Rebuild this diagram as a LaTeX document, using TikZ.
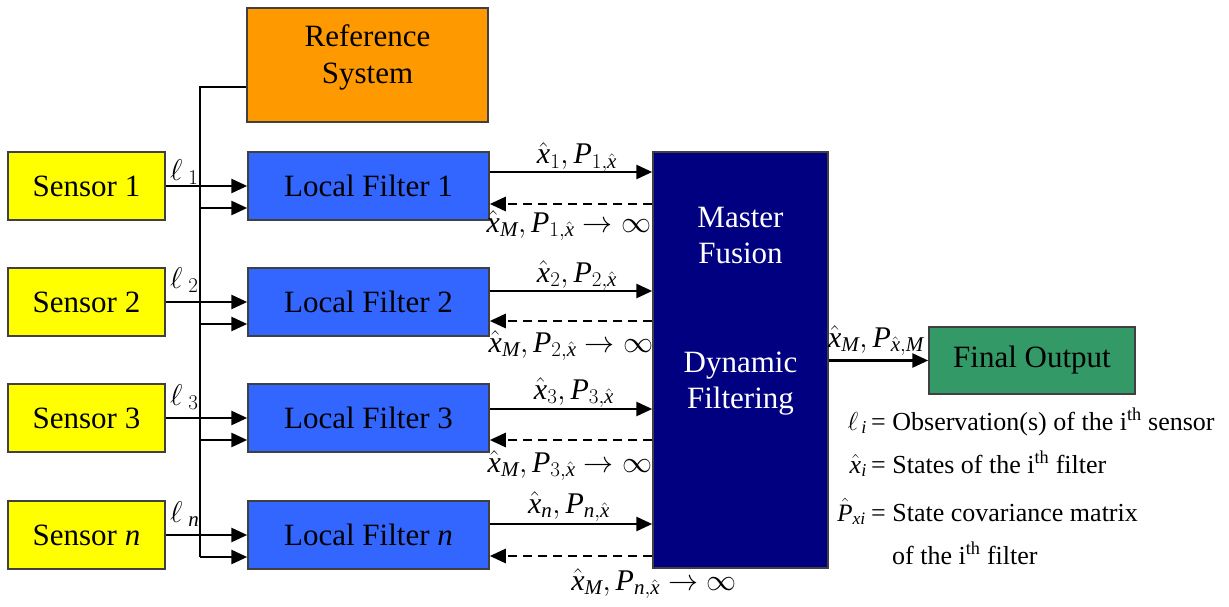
\RequirePackage{fix-cm}
\documentclass[tikz,border=0pt]{standalone}
\usepackage{amsmath}
\usepackage{fontspec}
\setmainfont{Liberation Serif}
\usetikzlibrary{arrows.meta}
\definecolor{syellow}{HTML}{FFFF00}
\definecolor{rorange}{HTML}{FF9900}
\definecolor{fblue}{HTML}{3366FF}
\definecolor{mnavy}{HTML}{000080}
\definecolor{ogreen}{HTML}{339966}
\newcommand\xh{\hat{\textit{x}}}
\newcommand\Pit{\textit{P}}
\newcommand\ti[1]{\textit{#1}}
\begin{document}
\begin{tikzpicture}[x=1pt,y=-1pt,
 box/.style={draw=black!75, line width=1.5pt, inner sep=0pt, font=\fontsize{31}{36}\selectfont, align=center},
 sensor/.style={box, fill=syellow, minimum width=157pt, minimum height=68pt},
 filt/.style={box, fill=fblue, minimum width=241pt, minimum height=68pt},
 ln/.style={line width=2.8pt},
 arr/.style={ln, -{Triangle[length=16pt,width=14pt]}},
 dsh/.style={arr, dash pattern=on 9pt off 6pt},
 lbl/.style={font=\fontsize{30}{32}\selectfont, inner sep=0pt},
 leg/.style={font=\fontsize{26}{30}\selectfont, inner sep=0pt},
 mtext/.style={text=white, font=\fontsize{31}{36}\selectfont, align=center, inner sep=0pt}]
\useasboundingbox (0,0) rectangle (1229,607);

% boxes
\node[box, fill=rorange, minimum width=241pt, minimum height=114pt] (ref) at (367.5,65) {};
\node[align=center, inner sep=0pt, font=\fontsize{31}{37}\selectfont] (reftxt) at (367.5,57) {Reference\\System};

\node[sensor] (s1) at (86.5,186) {Sensor 1};
\node[sensor] (s2) at (86.5,302) {Sensor 2};
\node[sensor] (s3) at (86.5,418) {Sensor 3};
\node[sensor] (s4) at (86.5,535) {Sensor \textit{n}};

\node[filt] (f1) at (368.5,186) {Local Filter 1};
\node[filt] (f2) at (368.5,302) {Local Filter 2};
\node[filt] (f3) at (368.5,418) {Local Filter 3};
\node[filt] (f4) at (368.5,535) {Local Filter \textit{n}};

\node[box, fill=mnavy, minimum width=175pt, minimum height=416pt] (m) at (740.5,360) {};
\node[mtext] (mt1) at (740.5,236) {Master\\Fusion};
\node[mtext] (mt2) at (740.5,384) {Dynamic\\Filtering};

\node[box, fill=ogreen, minimum width=206pt, minimum height=67pt] (fo) at (1032,360.5) {Final Output};

% bus
\coordinate (bt) at (200,87);
\coordinate (bb) at (200,557);
\draw[ln] (ref.west |- bt) -- (bt) -- (bb);

% sensor -> filter
\foreach \i/\y in {1/208,2/324,3/440,4/557}{
  \draw[arr] (s\i.east) -- (f\i.west |- s\i.east);
  \coordinate (b\i) at (200,\y);
  \draw[arr] (b\i) -- (f\i.west |- b\i);
}

% sensor labels
\node[lbl, anchor=base west] (l1) at (170,180) {$\ell_{\;1}$};
\node[lbl, anchor=base west] (l2) at (170,288) {$\ell_{\;2}$};
\node[lbl, anchor=base west] (l3) at (170,405) {$\ell_{\;3}$};
\node[lbl, anchor=base west] (l4) at (170,522) {$\ell_{\;\ti{n}}$};

% filter <-> master
\foreach \i/\ys/\yd in {1/172/204,2/291/321,3/409/440,4/524/556}{
  \coordinate (cs\i) at (500,\ys);
  \coordinate (cd\i) at (500,\yd);
  \draw[arr] (f\i.east |- cs\i) -- (m.west |- cs\i);
  \draw[dsh] (m.west |- cd\i) -- (f\i.east |- cd\i);
}

\node[lbl, anchor=base] (u1) at (577,164) {$\xh_1, \Pit_{1,\xh}$};
\node[lbl, anchor=base] (u2) at (577,282) {$\xh_2, \Pit_{2,\xh}$};
\node[lbl, anchor=base] (u3) at (574,399) {$\xh_3, \Pit_{3,\xh}$};
\node[lbl, anchor=base] (u4) at (569,513) {$\xh_{\ti{n}}, \Pit_{\ti{n},\xh}$};

\node[lbl, anchor=base] (d1) at (569,232) {$\xh_{\ti{M}}, \Pit_{1,\xh} \rightarrow \infty$};
\node[lbl, anchor=base] (d2) at (571,352) {$\xh_{\ti{M}}, \Pit_{2,\xh} \rightarrow \infty$};
\node[lbl, anchor=base] (d3) at (570,472) {$\xh_{\ti{M}}, \Pit_{3,\xh} \rightarrow \infty$};
\node[lbl, anchor=base] (d4) at (654,590) {$\xh_{\ti{M}}, \Pit_{\ti{n},\xh} \rightarrow \infty$};

% master -> final
\draw[arr] (m.east |- fo.west) -- (fo.west);
\node[lbl, anchor=base] (fl) at (876,347) {$\xh_{\ti{M}}, \Pit_{\xh,\ti{M}}$};

% legend
\node[leg, anchor=base east] (g1a) at (867,430) {$\ell_{\,\ti{i}}$};
\node[leg, anchor=base west] (g1b) at (871,430) {= Observation(s) of the i\textsuperscript{th} sensor};
\node[leg, anchor=base east] (g2a) at (867,473) {$\xh_{\ti{i}}$};
\node[leg, anchor=base west] (g2b) at (871,473) {= States of the i\textsuperscript{th} filter};
\node[leg, anchor=base east, font=\fontsize{25}{30}\selectfont] (g3a) at (866,521) {$\hat{\Pit}_{\ti{xi}}$};
\node[leg, anchor=base west] (g3b) at (871,521) {= State covariance matrix};
\node[leg, anchor=base west] (g4b) at (892,564) {of the i\textsuperscript{th} filter};
\end{tikzpicture}
\end{document}
